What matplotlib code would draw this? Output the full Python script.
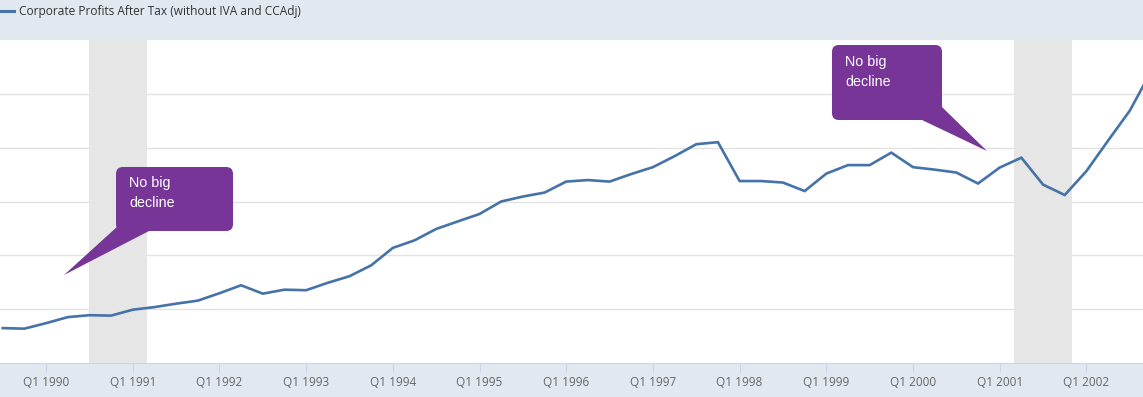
import matplotlib
matplotlib.use("Agg")
import matplotlib.pyplot as plt
from matplotlib.patches import Rectangle, FancyBboxPatch, Polygon

# Corporate profits after tax (billions of $)
quarters = [
    "1989Q3", "1989Q4",
    "1990Q1", "1990Q2", "1990Q3", "1990Q4",
    "1991Q1", "1991Q2", "1991Q3", "1991Q4",
    "1992Q1", "1992Q2", "1992Q3", "1992Q4",
    "1993Q1", "1993Q2", "1993Q3", "1993Q4",
    "1994Q1", "1994Q2", "1994Q3", "1994Q4",
    "1995Q1", "1995Q2", "1995Q3", "1995Q4",
    "1996Q1", "1996Q2", "1996Q3", "1996Q4",
    "1997Q1", "1997Q2", "1997Q3", "1997Q4",
    "1998Q1", "1998Q2", "1998Q3", "1998Q4",
    "1999Q1", "1999Q2", "1999Q3", "1999Q4",
    "2000Q1", "2000Q2", "2000Q3", "2000Q4",
    "2001Q1", "2001Q2", "2001Q3", "2001Q4",
    "2002Q1", "2002Q2", "2002Q3", "2002Q4",
]
profits = [
    282.4, 281.9,
    287.0, 292.6, 294.4, 294.0,
    299.5, 301.9, 305.1, 307.9,
    314.8, 322.2, 314.4, 318.1,
    317.6, 324.5, 330.6, 340.7,
    356.9, 363.9, 374.5, 381.5,
    388.4, 400.0, 404.6, 408.3,
    418.5, 419.9, 418.5, 425.5,
    431.9, 442.1, 453.2, 455.1,
    419.0, 419.0, 417.6, 409.7,
    425.9, 433.8, 433.8, 445.4,
    431.9, 429.6, 426.9, 416.7,
    431.5, 440.7, 415.7, 406.0,
    428.2, 456.5, 484.3, 521.3,
]
recessions = [(1990.5, 1991.167), (2001.167, 2001.833)]
tick_years = list(range(1990, 2003))
tick_labels = [f"Q1 {y}" for y in tick_years]
series_name = "Corporate Profits After Tax (without IVA and CCAdj)"
note_text = "No big\ndecline"

x = [int(q[:4]) + (int(q[5]) - 1) / 4 for q in quarters]

W, H = 1143, 397
fig = plt.figure(figsize=(W / 100, H / 100), dpi=100)
band = "#e1e8f0"


def fx(px):
    return px / W


def fy(py):
    return 1 - py / H


# header and footer bands (behind the axes)
fig.patches.append(Rectangle((0, fy(40)), 1, 40 / H, transform=fig.transFigure,
                             facecolor=band, edgecolor="none", zorder=-2))
fig.patches.append(Rectangle((0, 0), 1, fy(363), transform=fig.transFigure,
                             facecolor=band, edgecolor="none", zorder=-2))

ax = fig.add_axes([0, fy(363), 1, (363 - 40) / H])
ax.set_facecolor("white")

for a, b in recessions:
    ax.axvspan(a, b, color="#e6e6e6", lw=0, zorder=1)

ax.plot(x, profits, color="#4572a7", lw=1.9, zorder=3, solid_joinstyle="miter")

ax.set_xlim(1989.469, 2002.653)
ax.set_ylim(250, 550)
ax.set_yticks([300, 350, 400, 450, 500])
ax.yaxis.grid(True, color="#e3e3e3", lw=1)
ax.tick_params(axis="y", left=False, labelleft=False)
ax.set_xticks(tick_years)
ax.set_xticklabels(tick_labels, fontfamily="Open Sans", fontsize=8.5, color="#666666")
ax.tick_params(axis="x", length=6.5, width=0.8, color="#ccd6eb", pad=3)
for s in ["top", "left", "right"]:
    ax.spines[s].set_visible(False)
ax.spines["bottom"].set_color("#ccd6eb")
ax.set_axisbelow(True)

# legend in header
fig.add_artist(plt.Line2D([0, fx(14)], [fy(11), fy(11)], transform=fig.transFigure,
                          color="#4572a7", lw=2.2))
fig.text(fx(19), fy(12), series_name, fontfamily="Open Sans", fontsize=8.6,
         color="#333333", ha="left", va="center")

# callouts
purple = "#773597"


def callout(box, tail, text_xy):
    x0, y0, x1, y1 = box
    fig.patches.append(FancyBboxPatch((fx(x0), fy(y1)), fx(x1 - x0), (y1 - y0) / H,
                                      boxstyle="round,pad=0,rounding_size=0.006",
                                      transform=fig.transFigure, facecolor=purple,
                                      edgecolor="none", zorder=5, mutation_aspect=W / H))
    fig.patches.append(Polygon([(fx(px), fy(py)) for px, py in tail],
                               closed=True, transform=fig.transFigure,
                               facecolor=purple, edgecolor="none", zorder=5))
    fig.text(fx(text_xy[0]), fy(text_xy[1]), note_text, fontfamily="Liberation Sans",
             fontsize=10.3, color="white", ha="left", va="top", linespacing=1.55, zorder=6)


callout((116, 167, 233, 231), [(118, 226), (64, 275), (149, 231)], (129, 176))
callout((832, 45, 942, 120), [(922, 120), (987, 151), (942, 107)], (845, 55))

fig.savefig("out.png", dpi=100)
